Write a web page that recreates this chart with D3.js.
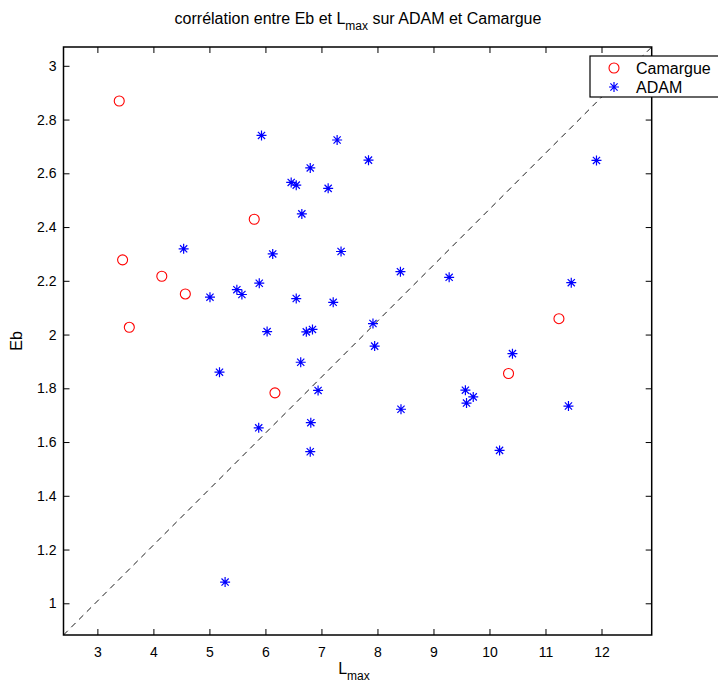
<!DOCTYPE html>
<html><head><meta charset="utf-8">
<script src="https://cdn.jsdelivr.net/npm/d3@7"></script>
<style>body{margin:0;background:#fff}svg{display:block}text{font-family:"Liberation Sans",Arial,sans-serif}</style>
</head><body>
<svg id="c" width="718" height="684"></svg>
<script>
const camargueX = [3.39, 3.45, 4.15, 4.57, 3.57, 5.80, 6.17, 10.34, 11.24];
const camargueY = [2.869, 2.278, 2.217, 2.151, 2.027, 2.429, 1.783, 1.855, 2.059];
const adamX = [4.54, 5.93, 7.28, 7.84, 6.80, 6.46, 6.55, 7.12, 6.65, 6.13, 7.35, 8.41, 5.89, 5.58, 6.55, 7.21, 5.01, 5.49, 5.18, 5.88, 7.92, 6.03, 6.73, 6.84, 7.95, 6.63, 6.94, 8.42, 6.81, 6.80, 11.91, 9.28, 11.46, 10.41, 9.57, 9.71, 9.59, 11.41, 10.18, 5.28];
const adamY = [2.319, 2.741, 2.724, 2.649, 2.620, 2.566, 2.556, 2.544, 2.449, 2.300, 2.309, 2.234, 2.191, 2.149, 2.134, 2.120, 2.139, 2.167, 1.860, 1.653, 2.041, 2.011, 2.010, 2.019, 1.957, 1.897, 1.792, 1.722, 1.672, 1.564, 2.648, 2.213, 2.193, 1.929, 1.793, 1.768, 1.745, 1.734, 1.569, 1.079];
const xTicks = [3, 4, 5, 6, 7, 8, 9, 10, 11, 12];
const yTicks = [1, 1.2, 1.4, 1.6, 1.8, 2, 2.2, 2.4, 2.6, 2.8, 3];
const xDomain = [2.395, 12.896];
const yDomain = [0.882, 3.07];
const seriesNames = ["Camargue", "ADAM"];

const svg = d3.select("#c");
const L = 63.5, R = 651.7, T = 47, B = 635;
const x = d3.scaleLinear().domain(xDomain).range([L, R]);
const y = d3.scaleLinear().domain(yDomain).range([B, T]);

const starPath = (s) => {
  const d = s * 0.72;
  return `M${-s},0L${s},0M0,${-s}L0,${s}M${-d},${-d}L${d},${d}M${-d},${d}L${d},${-d}`;
};

// dashed diagonal
svg.append("line")
  .attr("x1", x(xDomain[0])).attr("y1", y(yDomain[0]))
  .attr("x2", x(xDomain[1])).attr("y2", y(yDomain[1]))
  .attr("stroke", "#000").attr("stroke-width", 0.9).attr("stroke-dasharray", "6,5");

// axes (ticks inward)
const fs = 14;
const gx = svg.append("g").attr("transform", `translate(0,${B})`)
  .call(d3.axisBottom(x).tickValues(xTicks).tickSizeInner(-6).tickSizeOuter(0).tickPadding(12).tickFormat(d3.format("d")));
const gxt = svg.append("g").attr("transform", `translate(0,${T})`)
  .call(d3.axisTop(x).tickValues(xTicks).tickSizeInner(-6).tickSizeOuter(0).tickFormat(""));
const gy = svg.append("g").attr("transform", `translate(${L},0)`)
  .call(d3.axisLeft(y).tickValues(yTicks).tickSizeInner(-6).tickSizeOuter(0).tickPadding(7).tickFormat(d => d3.format("")(+d.toFixed(1))));
const gyr = svg.append("g").attr("transform", `translate(${R},0)`)
  .call(d3.axisRight(y).tickValues(yTicks).tickSizeInner(-6).tickSizeOuter(0).tickFormat(""));
[gx, gxt, gy, gyr].forEach(g => {
  g.select(".domain").remove();
  g.selectAll(".tick line").attr("stroke", "#000").attr("stroke-width", 1);
  g.selectAll("text").attr("font-size", fs).attr("fill", "#000").style("font-family", '"Liberation Sans",Arial,sans-serif');
});
svg.append("rect").attr("x", L).attr("y", T).attr("width", R - L).attr("height", B - T)
  .attr("fill", "none").attr("stroke", "#000").attr("stroke-width", 1.5);

// data
svg.append("g").selectAll("circle").data(camargueX.map((v, i) => [v, camargueY[i]])).join("circle")
  .attr("cx", d => x(d[0])).attr("cy", d => y(d[1])).attr("r", 5)
  .attr("fill", "none").attr("stroke", "#ff0000").attr("stroke-width", 1.1);
svg.append("g").selectAll("path").data(adamX.map((v, i) => [v, adamY[i]])).join("path")
  .attr("transform", d => `translate(${x(d[0])},${y(d[1])})`).attr("d", starPath(5))
  .attr("fill", "none").attr("stroke", "#0000ff").attr("stroke-width", 1.2);

// title
const title = svg.append("text").attr("x", 358).attr("y", 24).attr("text-anchor", "middle").attr("font-size", 16);
title.append("tspan").text("corrélation entre Eb et L");
title.append("tspan").text("max").attr("font-size", 12).attr("dy", 6);
title.append("tspan").text(" sur ADAM et Camargue").attr("dy", -6);

// x label
const xl = svg.append("text").attr("x", 354).attr("y", 674).attr("text-anchor", "middle").attr("font-size", 16);
xl.append("tspan").text("L");
xl.append("tspan").text("max").attr("font-size", 12).attr("dy", 6);

// y label
svg.append("text").attr("transform", "translate(22,341) rotate(-90)").attr("text-anchor", "middle")
  .attr("font-size", 16).text("Eb");

// legend
const lg = svg.append("g");
lg.append("rect").attr("x", 590).attr("y", 56).attr("width", 140).attr("height", 41)
  .attr("fill", "#fff").attr("stroke", "#000").attr("stroke-width", 1.2);
lg.append("circle").attr("cx", 614).attr("cy", 68).attr("r", 5).attr("fill", "none").attr("stroke", "#ff0000").attr("stroke-width", 1.1);
lg.append("path").attr("transform", "translate(614,87)").attr("d", starPath(5)).attr("fill", "none").attr("stroke", "#0000ff").attr("stroke-width", 1.2);
lg.append("text").attr("x", 636).attr("y", 74).attr("font-size", 16).text(seriesNames[0]);
lg.append("text").attr("x", 636).attr("y", 93).attr("font-size", 16).text(seriesNames[1]);
</script>
</body></html>
